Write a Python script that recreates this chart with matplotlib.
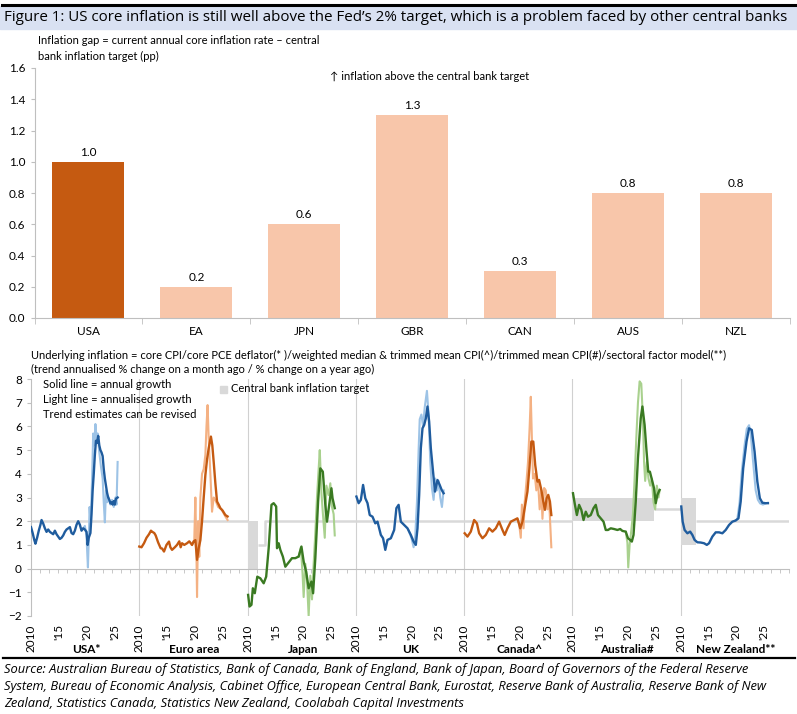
import matplotlib

matplotlib.use("Agg")

import matplotlib.pyplot as plt
from matplotlib.lines import Line2D
from matplotlib.patches import Rectangle

plt.rcParams["font.family"] = ["Lato", "DejaVu Sans"]

# --- panel superior: brecha de inflacion (pp) ---
gap_countries = ["USA", "EA", "JPN", "GBR", "CAN", "AUS", "NZL"]
gap_values = [1.0, 0.2, 0.6, 1.3, 0.3, 0.8, 0.8]

# --- panel inferior: inflacion subyacente, (año, %) ---
panel_names = ["USA*", "Euro area", "Japan", "UK", "Canada^", "Australia#", "New Zealand**"]

usa_annual = [(2010.0, 1.75), (2010.3, 1.5), (2010.6, 1.2), (2010.8, 1.05), (2011.1, 1.3),
              (2011.4, 1.6), (2011.7, 1.85), (2011.9, 2.05), (2012.2, 1.9), (2012.5, 1.7),
              (2012.8, 1.55), (2013.1, 1.65), (2013.4, 1.55), (2013.7, 1.5), (2014.0, 1.45),
              (2014.3, 1.6), (2014.6, 1.45), (2014.9, 1.35), (2015.2, 1.25), (2015.5, 1.3),
              (2015.8, 1.4), (2016.1, 1.55), (2016.4, 1.65), (2016.7, 1.7), (2017.0, 1.75),
              (2017.3, 1.5), (2017.6, 1.45), (2017.9, 1.6), (2018.2, 1.85), (2018.5, 2.0),
              (2018.8, 1.85), (2019.1, 1.6), (2019.4, 1.7), (2019.7, 1.65), (2020.0, 1.55),
              (2020.2, 1.0), (2020.4, 1.3), (2020.7, 1.5), (2020.9, 2.3), (2021.1, 3.3),
              (2021.3, 4.0), (2021.5, 4.8), (2021.7, 5.4), (2021.9, 5.3), (2022.1, 5.6),
              (2022.3, 5.2), (2022.5, 5.0), (2022.7, 4.9), (2022.9, 4.75), (2023.1, 4.2),
              (2023.3, 3.8), (2023.5, 3.5), (2023.7, 3.2), (2023.9, 3.0), (2024.1, 2.9),
              (2024.3, 2.75), (2024.5, 2.8), (2024.7, 2.7), (2024.9, 2.85), (2025.1, 2.7),
              (2025.3, 2.95), (2025.6, 3.0)]
usa_trend = [(2019.4, 1.7), (2019.7, 1.8), (2020.0, 1.4), (2020.1, 0.8), (2020.25, 0.05),
             (2020.4, 1.2), (2020.55, 2.6), (2020.75, 1.8), (2021.0, 3.8), (2021.2, 5.7),
             (2021.4, 5.2), (2021.6, 6.1), (2021.8, 5.5), (2022.0, 5.7), (2022.3, 4.9),
             (2022.6, 4.3), (2022.9, 3.8), (2023.1, 2.8), (2023.3, 1.95), (2023.5, 3.3),
             (2023.7, 2.8), (2024.0, 3.0), (2024.3, 2.7), (2024.6, 2.9), (2024.9, 2.6),
             (2025.2, 3.0), (2025.4, 2.7), (2025.6, 4.5)]

ea_annual = [(2010.0, 0.93), (2010.4, 0.9), (2010.85, 1.07), (2011.3, 1.3), (2011.75, 1.45),
             (2012.1, 1.6), (2012.35, 1.55), (2012.7, 1.5), (2012.95, 1.4), (2013.4, 1.1),
             (2013.85, 0.86), (2014.1, 0.85), (2014.45, 0.72), (2014.9, 1.0), (2015.35, 1.14),
             (2015.6, 0.9), (2015.9, 0.79), (2016.4, 0.9), (2016.8, 1.0), (2017.2, 1.15),
             (2017.45, 0.9), (2017.7, 1.07), (2018.1, 1.0), (2018.6, 1.07), (2019.0, 1.15),
             (2019.5, 1.0), (2019.8, 1.15), (2020.1, 1.2), (2020.4, 0.37), (2020.7, 0.86),
             (2021.0, 1.2), (2021.3, 2.0), (2021.6, 3.0), (2021.9, 3.95), (2022.2, 4.6),
             (2022.5, 5.08), (2022.9, 5.57), (2023.15, 5.2), (2023.4, 4.5), (2023.7, 3.6),
             (2024.0, 2.83), (2024.3, 2.7), (2024.6, 2.55), (2025.0, 2.45), (2025.5, 2.26),
             (2025.9, 2.2)]
ea_trend = [(2019.5, 1.0), (2019.9, 1.2), (2020.1, 3.0), (2020.3, 0.5), (2020.4, -1.2),
            (2020.6, 2.0), (2020.8, 0.5), (2021.0, 3.0), (2021.3, 4.0), (2021.6, 4.2),
            (2021.9, 4.8), (2022.1, 6.0), (2022.3, 6.9), (2022.5, 5.5), (2022.8, 4.0),
            (2023.1, 2.4), (2023.4, 3.0), (2023.7, 2.9), (2024.2, 2.6), (2024.8, 2.5),
            (2025.5, 2.2), (2025.9, 2.05)]

jp_annual = [(2010.1, -1.11), (2010.35, -1.6), (2010.7, -1.53), (2010.95, -0.83), (2011.3, -1.04),
             (2011.75, -0.34), (2012.3, -0.41), (2012.9, -0.62), (2013.35, -0.34), (2013.8, 0.86),
             (2014.3, 2.69), (2014.7, 2.76), (2015.15, 2.62), (2015.3, 0.86), (2015.6, 1.07),
             (2015.9, 0.79), (2016.35, 0.51), (2016.8, 0.08), (2017.3, 0.23), (2018.0, 0.44),
             (2018.6, 0.44), (2019.2, 0.51), (2019.7, 0.93), (2020.1, 0.3), (2020.55, -0.13),
             (2021.0, -0.83), (2021.5, -0.55), (2021.8, -1.04), (2022.2, 0.44), (2022.7, 2.83),
             (2023.1, 4.23), (2023.55, 4.09), (2024.0, 2.69), (2024.3, 1.98), (2024.7, 2.69),
             (2025.1, 3.39), (2025.3, 2.97), (2025.7, 2.55)]
jp_trend = [(2019.2, 0.5), (2019.6, 0.9), (2019.9, -0.2), (2020.1, -1.2), (2020.4, 0.2),
            (2020.7, -0.5), (2021.0, -2.0), (2021.3, -0.3), (2021.6, -1.3), (2021.9, 0.2),
            (2022.2, 1.5), (2022.5, 3.0), (2022.8, 4.2), (2023.0, 5.0), (2023.3, 3.2),
            (2023.6, 2.2), (2023.9, 1.3), (2024.2, 3.5), (2024.6, 3.1), (2024.9, 3.6),
            (2025.2, 2.6), (2025.5, 2.3), (2025.7, 1.4)]

uk_annual = [(2010.1, 3.04), (2010.5, 2.76), (2010.9, 2.9), (2011.3, 3.53), (2011.7, 2.97),
             (2012.1, 2.76), (2012.5, 2.26), (2013.0, 2.19), (2013.5, 1.91), (2013.9, 1.98),
             (2014.5, 1.42), (2014.9, 1.28), (2015.3, 0.79), (2015.7, 1.21), (2016.3, 1.28),
             (2016.9, 1.63), (2017.3, 2.55), (2017.7, 2.69), (2018.1, 1.98), (2018.7, 1.84),
             (2019.3, 1.7), (2019.9, 1.42), (2020.4, 1.14), (2020.8, 1.0), (2021.1, 1.7),
             (2021.4, 3.1), (2021.7, 5.08), (2022.0, 5.92), (2022.3, 6.06), (2022.6, 6.34),
             (2022.9, 6.84), (2023.2, 6.2), (2023.5, 5.08), (2023.9, 4.09), (2024.25, 3.25),
             (2024.7, 3.74), (2025.1, 3.53), (2025.45, 3.32), (2025.8, 3.18)]
uk_trend = [(2019.5, 1.6), (2020.0, 1.3), (2020.4, 0.9), (2020.7, 1.4), (2021.0, 2.8),
            (2021.3, 5.0), (2021.5, 6.3), (2021.8, 6.5), (2022.1, 6.0), (2022.4, 6.8),
            (2022.8, 7.5), (2023.1, 6.5), (2023.4, 4.5), (2023.7, 3.4), (2024.0, 2.9),
            (2024.3, 3.8), (2024.6, 3.3), (2024.9, 3.7), (2025.2, 3.0), (2025.5, 2.6),
            (2025.8, 3.3)]

ca_annual = [(2010.1, 1.49), (2010.6, 1.35), (2011.2, 1.56), (2011.8, 2.05), (2012.3, 1.91),
             (2012.7, 1.49), (2013.3, 1.28), (2013.9, 1.42), (2014.5, 1.7), (2015.1, 1.56),
             (2015.7, 1.7), (2016.3, 1.98), (2016.9, 1.63), (2017.3, 1.42), (2017.8, 1.7),
             (2018.4, 1.98), (2019.0, 2.05), (2019.6, 2.12), (2020.1, 1.7), (2020.5, 1.98),
             (2020.9, 2.55), (2021.4, 3.25), (2021.75, 4.23), (2022.1, 5.36), (2022.45, 5.36),
             (2022.8, 4.37), (2023.2, 3.67), (2023.5, 3.74), (2023.9, 3.32), (2024.25, 2.83),
             (2024.55, 2.48), (2024.85, 2.97), (2025.15, 3.11), (2025.45, 2.83), (2025.7, 2.26)]
ca_trend = [(2019.5, 2.1), (2019.9, 1.9), (2020.2, 1.3), (2020.4, 2.7), (2020.7, 1.7),
            (2020.9, 2.8), (2021.2, 3.6), (2021.5, 4.5), (2021.8, 6.0), (2022.0, 7.25),
            (2022.2, 5.5), (2022.4, 3.8), (2022.7, 4.0), (2023.0, 3.3), (2023.3, 3.7),
            (2023.6, 2.5), (2023.9, 3.3), (2024.1, 2.1), (2024.4, 3.4), (2024.7, 3.3),
            (2025.0, 2.5), (2025.3, 2.9), (2025.7, 0.9)]

au_annual = [(2010.1, 3.18), (2010.4, 2.76), (2010.8, 2.26), (2011.2, 2.69), (2011.6, 2.48),
             (2012.0, 2.05), (2012.4, 2.4), (2012.8, 2.19), (2013.3, 2.26), (2013.8, 2.55),
             (2014.2, 2.69), (2014.6, 2.26), (2015.1, 2.12), (2015.6, 1.98), (2016.0, 1.63),
             (2016.4, 1.63), (2016.9, 1.7), (2017.5, 1.67), (2018.1, 1.63), (2018.6, 1.67),
             (2019.0, 1.59), (2019.6, 1.56), (2020.0, 1.28), (2020.4, 1.21), (2020.7, 1.14),
             (2021.0, 1.42), (2021.4, 2.83), (2021.8, 4.66), (2022.3, 6.34), (2022.6, 6.84),
             (2023.0, 6.06), (2023.35, 4.94), (2023.65, 4.09), (2023.95, 4.09), (2024.25, 3.81),
             (2024.7, 3.39), (2025.0, 2.76), (2025.3, 3.11), (2025.7, 3.32)]
au_trend = [(2019.6, 1.55), (2019.9, 1.1), (2020.05, 0.05), (2020.3, 1.0), (2020.6, 1.6),
            (2020.9, 2.3), (2021.2, 3.8), (2021.5, 5.5), (2021.8, 7.0), (2022.1, 7.9),
            (2022.4, 7.8), (2022.7, 6.3), (2022.9, 4.5), (2023.1, 3.7), (2023.4, 4.5),
            (2023.7, 3.8), (2024.0, 3.5), (2024.3, 3.8), (2024.6, 2.8), (2024.9, 2.5),
            (2025.2, 3.5), (2025.5, 3.0), (2025.7, 3.3)]

nz_annual = [(2010.1, 2.62), (2010.35, 1.98), (2010.7, 1.63), (2011.2, 1.49), (2011.7, 1.56),
             (2012.1, 1.42), (2012.5, 1.21), (2013.0, 1.11), (2013.6, 1.1), (2014.2, 1.07),
             (2014.7, 1.0), (2015.1, 1.07), (2015.7, 1.35), (2016.3, 1.53), (2016.9, 1.53),
             (2017.5, 1.49), (2018.1, 1.63), (2018.7, 1.84), (2019.3, 1.98), (2019.9, 2.03),
             (2020.4, 2.12), (2020.8, 2.83), (2021.25, 4.23), (2021.85, 5.36), (2022.3, 5.92),
             (2022.8, 5.85), (2023.3, 4.94), (2023.8, 3.67), (2024.25, 2.97), (2024.7, 2.78),
             (2025.25, 2.76), (2025.7, 2.76)]
nz_trend = [(2019.9, 2.03), (2020.2, 2.1), (2020.6, 2.8), (2021.0, 4.1), (2021.5, 5.2),
            (2021.9, 5.9), (2022.3, 6.05), (2022.6, 5.7), (2023.0, 4.6), (2023.5, 3.3),
            (2023.9, 2.9), (2024.3, 2.75), (2024.8, 2.7), (2025.3, 2.75), (2025.7, 2.78)]

# objetivos de inflacion: (desde, hasta, minimo, maximo)
usa_target = [(2010, 2029.5, 2, 2)]
ea_target = [(2010, 2029.5, 2, 2)]
jp_target = [(2010, 2011.9, 0, 2), (2011.9, 2013.05, 1, 1), (2013.05, 2029.5, 2, 2)]
uk_target = [(2010, 2029.5, 2, 2)]
ca_target = [(2010, 2029.5, 2, 2)]
au_target = [(2010, 2024.6, 2, 3), (2024.6, 2029.5, 2.5, 2.5)]
nz_target = [(2010, 2012.7, 1, 3), (2012.7, 2029.5, 2, 2)]

BLUE, LBLUE = "#1F5C9E", "#9DC3E6"
ORANGE, LORANGE = "#C55A11", "#F4B183"
GREEN, LGREEN = "#3A7A22", "#A9D18E"
GREY = "#BFBFBF"
TARGET = "#D9D9D9"

panels = [
    (usa_annual, usa_trend, usa_target, BLUE, LBLUE),
    (ea_annual, ea_trend, ea_target, ORANGE, LORANGE),
    (jp_annual, jp_trend, jp_target, GREEN, LGREEN),
    (uk_annual, uk_trend, uk_target, BLUE, LBLUE),
    (ca_annual, ca_trend, ca_target, ORANGE, LORANGE),
    (au_annual, au_trend, au_target, GREEN, LGREEN),
    (nz_annual, nz_trend, nz_target, BLUE, LBLUE),
]
PANEL_YEARS = 19.5

W, H = 797, 714
fig = plt.figure(figsize=(W / 100, H / 100), dpi=100)


def fx(px):
    return px / W


def fy(py):
    return 1 - py / H


# cabecera
fig.add_artist(Rectangle((fx(0), fy(29)), 1, fy(6) - fy(29), transform=fig.transFigure,
                         color="#D9E1F2", zorder=0))
fig.add_artist(Line2D([fx(2), fx(795)], [fy(4.5), fy(4.5)], transform=fig.transFigure,
                      color="black", lw=2.2))
fig.text(fx(4), fy(17.5), "Figure 1: US core inflation is still well above the Fed\u2019s 2% target, "
         "which is a problem faced by other central banks", fontsize=10.9, va="center",
         family=["Open Sans", "DejaVu Sans"])

# 1. brecha de inflacion
ax1 = fig.add_axes([fx(34.5), fy(318), fx(790) - fx(34.5), fy(68) - fy(318)])
xs = range(len(gap_countries))
bars = ax1.bar(xs, gap_values, width=0.667,
               color=[ORANGE] + ["#F8C6AA"] * (len(gap_values) - 1))
ax1.bar_label(bars, fmt="%.1f", padding=3, fontsize=8.5)
ax1.set_xlim(-0.5, len(gap_countries) - 0.5)
ax1.set_ylim(0, 1.6)
ax1.set_yticks([i / 5 for i in range(9)], [f"{i / 5:.1f}" for i in range(9)])
ax1.set_xticks(list(xs), gap_countries)
ax1.set_xticks([i - 0.5 for i in range(len(gap_countries) + 1)], minor=True)
ax1.tick_params(axis="x", which="major", length=0, pad=6, labelsize=8.5)
ax1.tick_params(axis="x", which="minor", length=4, color=GREY)
ax1.tick_params(axis="y", length=3, color=GREY, labelsize=8.5)
for s in ("top", "right"):
    ax1.spines[s].set_visible(False)
for s in ("left", "bottom"):
    ax1.spines[s].set_color(GREY)
fig.text(fx(38), fy(40), "Inflation gap = current annual core inflation rate \u2013 central",
         fontsize=8.0, va="center")
fig.text(fx(38), fy(56), "bank inflation target (pp)", fontsize=8.0, va="center")
fig.text(fx(430), fy(76), "\u2191 inflation above the central bank target", fontsize=8.0,
         ha="center", va="center", family=["Lato", "DejaVu Sans"])

# 2. inflacion subyacente por pais
ax2 = fig.add_axes([fx(31), fy(616), fx(789) - fx(31), fy(379) - fy(616)])
for i, (annual, trend, target, dark, light) in enumerate(panels):
    off = i * PANEL_YEARS - 2010
    line_x, line_y = [], []
    for x0, x1, lo, hi in target:
        if hi > lo:
            ax2.fill_between([x0 + off, x1 + off], lo, hi, color=TARGET, lw=0, zorder=1)
        else:
            line_x += [x0 + off, x1 + off]
            line_y += [lo, lo]
    ax2.plot(line_x, line_y, color=TARGET, lw=1.8, zorder=1, solid_capstyle="butt")
    ax2.plot([t + off for t, _ in trend], [v for _, v in trend], color=light, lw=1.5, zorder=3)
    ax2.plot([t + off for t, _ in annual], [v for _, v in annual], color=dark, lw=1.7, zorder=4)
    if i > 0:
        ax2.axvline(i * PANEL_YEARS, color="#D0D0D0", lw=0.8, zorder=0)
    ax2.text(i * PANEL_YEARS + 9.9, -3.43, panel_names[i], ha="center", va="center",
             fontsize=8.5, fontweight="bold")

n = len(panels)
ax2.set_xlim(0, n * PANEL_YEARS)
ax2.set_ylim(-2, 8)
ax2.set_yticks(range(-2, 9))
major = [i * PANEL_YEARS + d for i in range(n) for d in (0, 5, 10, 15)]
ax2.set_xticks(major, ["2010", "'15", "'20", "'25"] * n)
ax2.set_xticks([i * PANEL_YEARS / 12 for i in range(12 * n + 1)], minor=True)
ax2.tick_params(axis="x", which="major", length=0, pad=40, rotation=90, labelsize=8.5)
ax2.tick_params(axis="x", which="minor", length=3, color=GREY)
ax2.tick_params(axis="y", length=3, color=GREY, labelsize=8.5)
ax2.spines["bottom"].set_position(("data", 0))
ax2.spines["bottom"].set_color(GREY)
ax2.spines["left"].set_color(GREY)
for s in ("top", "right"):
    ax2.spines[s].set_visible(False)

fig.text(fx(31), fy(355), "Underlying inflation = core CPI/core PCE deflator(* )/weighted median & "
         "trimmed mean CPI(^)/trimmed mean CPI(#)/sectoral factor model(**)", fontsize=8.05,
         va="center")
fig.text(fx(31), fy(369), "(trend annualised % change on a month ago / % change on a year ago)",
         fontsize=8.05, va="center")
for k, txt in enumerate(["Solid line = annual growth", "Light line = annualised growth",
                         "Trend estimates can be revised"]):
    fig.text(fx(43), fy(385 + 14.5 * k), txt, fontsize=8.1, va="center")
fig.add_artist(Rectangle((fx(220), fy(393)), fx(7), fy(386) - fy(393), transform=fig.transFigure,
                         color=TARGET))
fig.text(fx(231), fy(389), "Central bank inflation target", fontsize=8.0, va="center")

# fuente
fig.add_artist(Line2D([fx(3), fx(795)], [fy(657.5), fy(657.5)], transform=fig.transFigure,
                      color="black", lw=1.6))
source = ["Source: Australian Bureau of Statistics, Bank of Canada, Bank of England, Bank of Japan, "
          "Board of Governors of the Federal Reserve",
          "System, Bureau of Economic Analysis, Cabinet Office, European Central Bank, Eurostat, "
          "Reserve Bank of Australia, Reserve Bank of New",
          "Zealand, Statistics Canada, Statistics New Zealand, Coolabah Capital Investments"]
for k, txt in enumerate(source):
    fig.text(fx(4), fy(670 + 16.7 * k), txt, fontsize=9.3, style="italic", va="center",
             family=["Open Sans", "DejaVu Sans"])

fig.savefig("out.png", dpi=100)
